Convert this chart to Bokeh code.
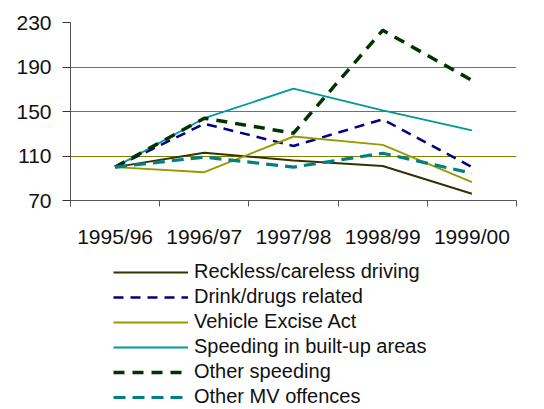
from bokeh.plotting import figure
from bokeh.layouts import column
from bokeh.models import (Range1d, FixedTicker, Legend, LegendItem, ColumnDataSource)
from bokeh.embed import file_html
from bokeh.resources import INLINE

categories = ["1995/96", "1996/97", "1997/98", "1998/99", "1999/00"]
reckless = [100, 113, 106, 101, 76]
drink = [100, 139, 119, 143, 100]
excise = [100, 95.5, 127.5, 120, 86.5]
speeding_bu = [100, 144, 170.5, 151, 133]
other_speeding = [100, 144, 130.5, 223, 178]
other_mv = [100, 109, 100, 112.5, 94.5]
y_ticks = [70, 110, 150, 190, 230]

series = [
    ("Reckless/careless driving", reckless, "#333300", 2, "solid"),
    ("Drink/drugs related", drink, "#000080", 2.5, "10 7"),
    ("Vehicle Excise Act", excise, "#999900", 2, "solid"),
    ("Speeding in built-up areas", speeding_bu, "#009999", 1.8, "solid"),
    ("Other speeding", other_speeding, "#003300", 3.5, "11 8"),
    ("Other MV offences", other_mv, "#008080", 3.2, "12 7"),
]

FONT = "Liberation Sans"
FS = "21px"
TOP_H = 258
W = 544

xs = [i + 0.5 for i in range(len(categories))]

p = figure(width=W, height=TOP_H, output_backend="svg", toolbar_location=None,
           x_range=Range1d(0, len(categories)), y_range=Range1d(70, 230),
           min_border_left=70, min_border_right=28, min_border_top=22,
           min_border_bottom=58)
p.outline_line_color = None
p.background_fill_color = "white"
p.border_fill_color = "white"

# legend-only figure below the chart
lf = figure(width=W, height=409 - TOP_H, output_backend="svg", toolbar_location=None,
            x_range=Range1d(100, 101), y_range=Range1d(0, 1),
            x_axis_location=None, y_axis_location=None,
            min_border_left=0, min_border_right=0, min_border_top=0,
            min_border_bottom=0)
lf.outline_line_color = None
lf.xgrid.visible = False
lf.ygrid.visible = False

items = []
for name, vals, color, w, dash in series:
    src = ColumnDataSource(dict(x=xs, y=vals))
    p.line("x", "y", source=src, line_color=color, line_width=w, line_dash=dash)
    r2 = lf.line("x", "y", source=src, line_color=color, line_width=w, line_dash=dash)
    items.append(LegendItem(label=name, renderers=[r2]))

# x axis
xa = p.xaxis[0]
xa.ticker = FixedTicker(ticks=xs, minor_ticks=list(range(len(categories) + 1)))
xa.major_label_overrides = {x: c for x, c in zip(xs, categories)}
xa.major_tick_out = 0
xa.major_tick_in = 0
xa.minor_tick_out = 6
xa.minor_tick_in = 0
xa.minor_tick_line_color = "#555555"
xa.axis_line_color = "#555555"
xa.major_label_text_font = FONT
xa.major_label_text_font_size = FS
xa.major_label_text_color = "#111111"
xa.major_label_standoff = 18

ya = p.yaxis[0]
ya.ticker = FixedTicker(ticks=y_ticks)
ya.major_tick_out = 8
ya.major_tick_in = 0
ya.minor_tick_line_color = None
ya.axis_line_color = "#555555"
ya.major_tick_line_color = "#333333"
ya.major_label_text_font = FONT
ya.major_label_text_font_size = FS
ya.major_label_text_color = "#111111"
ya.major_label_standoff = 11

p.xgrid.grid_line_color = None
p.ygrid.ticker = FixedTicker(ticks=y_ticks[1:])
p.ygrid.grid_line_color = "#808000"
p.ygrid.grid_line_width = 1

legend = Legend(items=items, location=(43, 1), orientation="vertical",
                glyph_width=75, glyph_height=20, label_standoff=6,
                spacing=2, padding=0, margin=0, label_height=20,
                border_line_color=None, background_fill_alpha=0,
                label_text_font=FONT, label_text_font_size="20px",
                label_text_color="#111111")
lf.add_layout(legend, "center")

layout = column(p, lf, spacing=0)
open("out.html", "w").write(file_html(layout, INLINE))
